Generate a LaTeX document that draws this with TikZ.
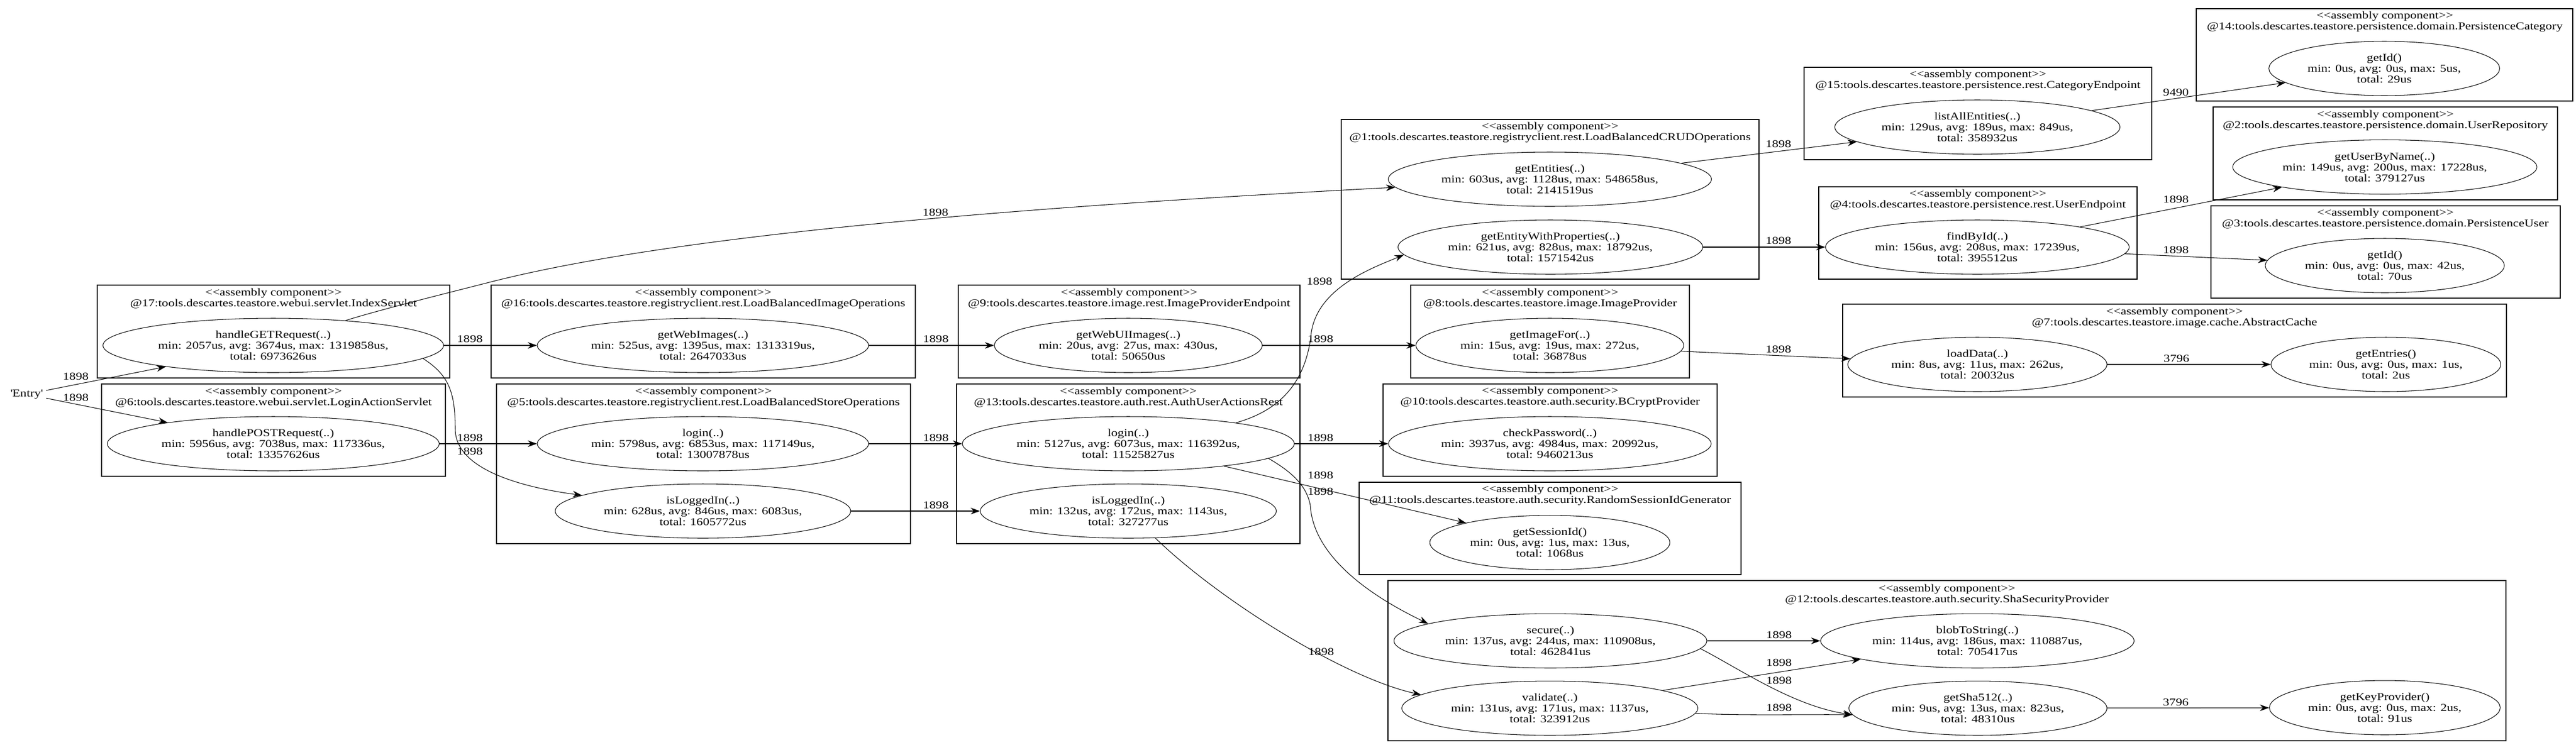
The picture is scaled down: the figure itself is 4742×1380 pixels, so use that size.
\documentclass[tikz,border=0pt]{standalone}
\usepackage{fontspec}
\setmainfont{Liberation Serif}[FakeStretch=1.22, Ligatures=TeXOff]
\usepackage{tikz}
\usetikzlibrary{shapes.geometric,arrows.meta}
\newcommand{\asmcomp}[1]{\textless\kern0pt\textless assembly component\textgreater\kern0pt\textgreater\\#1}
\tikzset{
  comp/.style={draw, line width=0.7pt},
  ttl/.style={align=center, inner sep=0pt},
  op/.style={draw, ellipse, inner sep=0pt, minimum height=2cm, minimum width=#1, align=center, line width=0.6pt},
  call/.style={-{Stealth[length=0.34cm,width=0.24cm]}, line width=0.6pt},
  lbl/.style={inner sep=0pt}
}

\begin{document}
\begin{tikzpicture}[x=0.02cm, y=-0.02cm, font=\fontsize{11}{11.4}\selectfont]
\useasboundingbox (0,0) rectangle (4742,1380);

\node (entry) at (49,726) {\textquotesingle Entry\textquotesingle};

\draw [comp] (179,525) rectangle (828,696);
\node [ttl] (t17) at (503.5,550) {\asmcomp{@17:tools.descartes.teastore.webui.servlet.IndexServlet}};
\node [op=12.54cm] (hGET) at (503,636) {handleGETRequest(..)\\min: 2057us, avg: 3674us, max: 1319858us,\\total: 6973626us};

\draw [comp] (187,707) rectangle (820,877);
\node [ttl] (t6) at (503.5,731.5) {\asmcomp{@6:tools.descartes.teastore.webui.servlet.LoginActionServlet}};
\node [op=12.22cm] (hPOST) at (503,817) {handlePOSTRequest(..)\\min: 5956us, avg: 7038us, max: 117336us,\\total: 13357626us};

\draw [comp] (904,525) rectangle (1685,696);
\node [ttl] (t16) at (1294.5,550) {\asmcomp{@16:tools.descartes.teastore.registryclient.rest.LoadBalancedImageOperations}};
\node [op=12.2cm] (gWI) at (1294,636) {getWebImages(..)\\min: 525us, avg: 1395us, max: 1313319us,\\total: 2647033us};

\draw [comp] (914,707) rectangle (1676,1001);
\node [ttl] (t5) at (1295,731.5) {\asmcomp{@5:tools.descartes.teastore.registryclient.rest.LoadBalancedStoreOperations}};
\node [op=12.2cm] (log5) at (1294,817) {login(..)\\min: 5798us, avg: 6853us, max: 117149us,\\total: 13007878us};
\node [op=10.88cm] (isL5) at (1294,941) {isLoggedIn(..)\\min: 628us, avg: 846us, max: 6083us,\\total: 1605772us};

\draw [comp] (1764,525) rectangle (2393,696);
\node [ttl] (t9) at (2078.5,550) {\asmcomp{@9:tools.descartes.teastore.image.rest.ImageProviderEndpoint}};
\node [op=9.86cm] (gWUI) at (2077,636) {getWebUIImages(..)\\min: 20us, avg: 27us, max: 430us,\\total: 50650us};

\draw [comp] (1761,707) rectangle (2393,1001);
\node [ttl] (t13) at (2077,731.5) {\asmcomp{@13:tools.descartes.teastore.auth.rest.AuthUserActionsRest}};
\node [op=12.22cm] (log13) at (2077,817) {login(..)\\min: 5127us, avg: 6073us, max: 116392us,\\total: 11525827us};
\node [op=10.9cm] (isL13) at (2077,941) {isLoggedIn(..)\\min: 132us, avg: 172us, max: 1143us,\\total: 327277us};

\draw [comp] (2469,220) rectangle (3238,514);
\node [ttl] (t1) at (2853.5,244) {\asmcomp{@1:tools.descartes.teastore.registryclient.rest.LoadBalancedCRUDOperations}};
\node [op=11.9cm] (gEnt) at (2853,330) {getEntities(..)\\min: 603us, avg: 1128us, max: 548658us,\\total: 2141519us};
\node [op=11.22cm] (gEWP) at (2854,455) {getEntityWithProperties(..)\\min: 621us, avg: 828us, max: 18792us,\\total: 1571542us};

\draw [comp] (2597,525) rectangle (3110,696);
\node [ttl] (t8) at (2853.5,550) {\asmcomp{@8:tools.descartes.teastore.image.ImageProvider}};
\node [op=9.86cm] (gImg) at (2853,636) {getImageFor(..)\\min: 15us, avg: 19us, max: 272us,\\total: 36878us};

\draw [comp] (2546,707) rectangle (3161,877);
\node [ttl] (t10) at (2853.5,731) {\asmcomp{@10:tools.descartes.teastore.auth.security.BCryptProvider}};
\node [op=11.88cm] (chkPw) at (2853,817) {checkPassword(..)\\min: 3937us, avg: 4984us, max: 20992us,\\total: 9460213us};

\draw [comp] (2502,888) rectangle (3205,1058);
\node [ttl] (t11) at (2853.5,912) {\asmcomp{@11:tools.descartes.teastore.auth.security.RandomSessionIdGenerator}};
\node [op=8.84cm] (gSID) at (2853,999) {getSessionId()\\min: 0us, avg: 1us, max: 13us,\\total: 1068us};

\draw [comp] (2555,1069) rectangle (4613,1364);
\node [ttl] (t12) at (3584,1095) {\asmcomp{@12:tools.descartes.teastore.auth.security.ShaSecurityProvider}};
\node [op=11.52cm] (sec) at (2854,1180) {secure(..)\\min: 137us, avg: 244us, max: 110908us,\\total: 462841us};
\node [op=10.9cm] (val) at (2853,1304) {validate(..)\\min: 131us, avg: 171us, max: 1137us,\\total: 323912us};
\node [op=11.54cm] (blob) at (3640,1180) {blobToString(..)\\min: 114us, avg: 186us, max: 110887us,\\total: 705417us};
\node [op=9.5cm] (sha) at (3641,1304) {getSha512(..)\\min: 9us, avg: 13us, max: 823us,\\total: 48310us};
\node [op=8.5cm] (keyP) at (4390,1303) {getKeyProvider()\\min: 0us, avg: 0us, max: 2us,\\total: 91us};

\draw [comp] (3321,124) rectangle (3961,294);
\node [ttl] (t15) at (3641,148) {\asmcomp{@15:tools.descartes.teastore.persistence.rest.CategoryEndpoint}};
\node [op=10.5cm] (lAE) at (3640,234) {listAllEntities(..)\\min: 129us, avg: 189us, max: 849us,\\total: 358932us};

\draw [comp] (3348,344) rectangle (3934,514);
\node [ttl] (t4) at (3641,368) {\asmcomp{@4:tools.descartes.teastore.persistence.rest.UserEndpoint}};
\node [op=11.18cm] (fBI) at (3640,455) {findById(..)\\min: 156us, avg: 208us, max: 17239us,\\total: 395512us};

\draw [comp] (3392,560) rectangle (4614,731);
\node [ttl] (t7) at (4003,585) {\asmcomp{@7:tools.descartes.teastore.image.cache.AbstractCache}};
\node [op=9.54cm] (loadD) at (3640,671) {loadData(..)\\min: 8us, avg: 11us, max: 262us,\\total: 20032us};
\node [op=8.46cm] (gEntr) at (4392,671) {getEntries()\\min: 0us, avg: 0us, max: 1us,\\total: 2us};

\draw [comp] (4043,16) rectangle (4736,186);
\node [ttl] (t14) at (4390,40) {\asmcomp{@14:tools.descartes.teastore.persistence.domain.PersistenceCategory}};
\node [op=8.5cm] (gId14) at (4389,126) {getId()\\min: 0us, avg: 0us, max: 5us,\\total: 29us};

\draw [comp] (4074,197) rectangle (4708,368);
\node [ttl] (t2) at (4391,222) {\asmcomp{@2:tools.descartes.teastore.persistence.domain.UserRepository}};
\node [op=11.2cm] (gUBN) at (4390,307.5) {getUserByName(..)\\min: 149us, avg: 200us, max: 17228us,\\total: 379127us};

\draw [comp] (4070,379) rectangle (4713,549);
\node [ttl] (t3) at (4391,403) {\asmcomp{@3:tools.descartes.teastore.persistence.domain.PersistenceUser}};
\node [op=8.8cm] (gId3) at (4390,489) {getId()\\min: 0us, avg: 0us, max: 42us,\\total: 70us};

\draw [call] (entry) -- (hGET);
\node [lbl] (p1) at (139.5,693) {1898};
\draw [call] (entry) -- (hPOST);
\node [lbl] (p2) at (139.5,732) {1898};
\draw [call] (hGET) -- (gWI);
\node [lbl] (p3) at (865,624) {1898};
\draw [call] (hPOST) -- (log5);
\node [lbl] (p4) at (865,806) {1898};
\draw [call] (hGET.-5) .. controls (825,690) and (838,720) .. (838,790) .. controls (838,870) and (980,900) .. (isL5);
\node [lbl] (p5) at (865,831) {1898};
\draw [call] (hGET.19) .. controls (700,570) and (830,538) .. (900,520) .. controls (1250,430) and (1900,380) .. (gEnt);
\node [lbl] (p6) at (1722,391) {1898};
\draw [call] (gWI) -- (gWUI);
\node [lbl] (p7) at (1722.7,624) {1898};
\draw [call] (log5) -- (log13);
\node [lbl] (p8) at (1722.7,806) {1898};
\draw [call] (isL5) -- (isL13);
\node [lbl] (p9) at (1722.7,930) {1898};
\draw [call] (gWUI) -- (gImg);
\node [lbl] (p10) at (2430.7,624) {1898};
\draw [call] (log13) -- (chkPw);
\node [lbl] (p11) at (2430.7,806) {1898};
\draw [call] (log13.11) .. controls (2340,760) and (2400,720) .. (2413,620) .. controls (2420,530) and (2530,492) .. (gEWP.-177);
\node [lbl] (p12) at (2429,518) {1898};
\draw [call] (log13) -- (gSID);
\node [lbl] (p13) at (2430.7,875) {1898};
\draw [call] (log13.-6) .. controls (2380,870) and (2405,895) .. (2412,930) .. controls (2418,1040) and (2560,1115) .. (sec.172);
\node [lbl] (p14) at (2430.7,905) {1898};
\draw [call] (isL13.-45) .. controls (2250,1110) and (2480,1250) .. (val.174);
\node [lbl] (p15) at (2432,1200) {1898};
\draw [call] (gEnt) -- (lAE);
\node [lbl] (p16) at (3273.8,265) {1898};
\draw [call] (gEWP) -- (fBI);
\node [lbl] (p17) at (3273.8,443) {1898};
\draw [call] (gImg) -- (loadD);
\node [lbl] (p18) at (3273.8,643) {1898};
\draw [call] (lAE) -- (gId14);
\node [lbl] (p19) at (4005.5,170) {9490};
\draw [call] (fBI) -- (gUBN);
\node [lbl] (p20) at (4005.5,367) {1898};
\draw [call] (fBI) -- (gId3);
\node [lbl] (p21) at (4005.5,460) {1898};
\draw [call] (loadD) -- (gEntr);
\node [lbl] (p22) at (4006.5,660) {3796};
\draw [call] (sec) -- (blob);
\node [lbl] (p23) at (3274.8,1169) {1898};
\draw [call] (val) -- (blob);
\node [lbl] (p24) at (3274.8,1220) {1898};
\draw [call] (sec.-3) .. controls (3200,1230) and (3300,1300) .. (sha.-177);
\node [lbl] (p25) at (3274.8,1253) {1898};
\draw [call] (val.-2) .. controls (3200,1318) and (3330,1315) .. (sha.-177);
\node [lbl] (p26) at (3274.8,1303) {1898};
\draw [call] (sha) -- (keyP);
\node [lbl] (p27) at (4005.2,1293) {3796};
\end{tikzpicture}
\end{document}
